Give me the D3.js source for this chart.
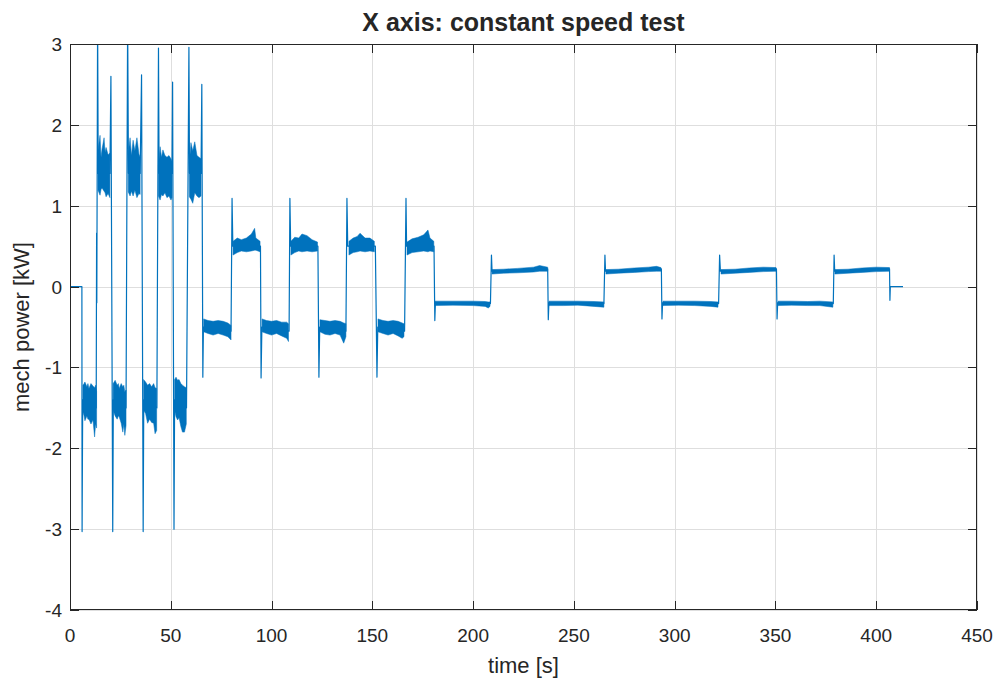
<!DOCTYPE html>
<html>
<head>
<meta charset="utf-8">
<script src="https://cdn.jsdelivr.net/npm/d3@7"></script>
<style>
  body { margin: 0; background: #fff; }
  text { font-family: "Liberation Sans", Arial, Helvetica, sans-serif; fill: #262626; }
</style>
</head>
<body>
<svg id="chart" width="999" height="684"></svg>
<script>
// ---- data -------------------------------------------------------------
const titleText = "X axis: constant speed test";
const xLabel = "time [s]";
const yLabel = "mech power [kW]";
const xTicks = [0, 50, 100, 150, 200, 250, 300, 350, 400, 450];
const yTicks = [-4, -3, -2, -1, 0, 1, 2, 3];

// Trace vertices: transitions, overshoot spikes and plateau ends
const traceTime = [
  0, 5.9, 6.0, 6.3, 13.0, 13.2, 13.3, 13.7, 14.0, 19.8, 20.3, 21.2, 21.5,
  27.8, 28.6, 29.0, 34.8, 35.5, 36.3, 36.6, 43.1, 43.9, 44.2,
  50.6, 50.9, 51.6, 51.9, 57.8, 59.0, 59.3, 65.0, 65.4, 65.9, 66.2,
  79.9, 80.4, 80.8, 94.5, 94.8, 95.2, 108.7, 109.1, 109.5,
  123.0, 123.5, 123.9, 136.9, 137.4, 137.8, 151.5, 152.3, 152.7,
  166.0, 166.7, 167.0, 180.6, 181.0, 181.3,
  208.6, 209.1, 209.4, 237.0, 237.3, 237.6, 264.9, 265.4, 265.7,
  293.4, 293.7, 294.0, 321.8, 322.3, 322.7, 350.5, 350.8, 351.1,
  378.7, 379.1, 379.4, 406.6, 406.8, 407.0, 413.3
];
const tracePower = [
  0, 0, -3.03, -1.4, -1.5, 0.66, -0.2, 3.3, 1.4, 1.4, 2.6, -3.03, -1.4,
  -1.5, 3.3, 1.4, 1.4, 2.62, -3.03, -1.4, -1.5, 2.95, 1.4,
  1.4, 2.53, -3.0, -1.4, -1.5, 2.96, 1.4, 1.4, 2.5, -1.12, -0.5,
  -0.55, 1.09, 0.5, 0.5, -1.13, -0.5, -0.55, 1.09, 0.5,
  0.5, -1.12, -0.5, -0.55, 1.09, 0.5, 0.5, -1.12, -0.5,
  -0.55, 1.09, 0.5, 0.5, -0.42, -0.2,
  -0.21, 0.39, 0.19, 0.22, -0.41, -0.2, -0.21, 0.39, 0.19,
  0.22, -0.40, -0.2, -0.21, 0.39, 0.19, 0.22, -0.40, -0.2,
  -0.21, 0.39, 0.19, 0.22, -0.17, 0, 0
];

// Noise envelope of each plateau: [time s, low kW, high kW]
const bandsFast = [
  [[6.4,-1.55,-1.22],[7.0,-1.6,-1.2],[7.4,-1.66,-1.18],[8.4,-1.6,-1.24],[8.9,-1.64,-1.2],[9.4,-1.64,-1.26],[10.4,-1.7,-1.2],[11.4,-1.65,-1.23],[12.2,-1.86,-1.25],[12.7,-1.7,-1.22],[13.2,-1.75,-1.3]],
  [[13.9,1.19,1.69],[14.9,1.13,1.87],[15.4,1.2,1.6],[15.9,1.22,1.7],[16.9,1.18,1.84],[17.4,1.16,1.66],[17.9,1.11,1.72],[18.9,1.15,1.63],[19.8,1.1,1.65]],
  [[21.4,-1.53,-1.2],[22.4,-1.6,-1.16],[23.4,-1.64,-1.22],[24.0,-1.6,-1.2],[24.4,-1.61,-1.26],[25.4,-1.69,-1.2],[26.2,-1.8,-1.24],[26.7,-1.7,-1.22],[27.2,-1.84,-1.3],[27.8,-1.72,-1.28]],
  [[28.9,1.17,1.65],[29.8,1.12,1.84],[30.5,1.18,1.62],[31.3,1.12,1.81],[32.2,1.19,1.68],[33.2,1.1,1.84],[34.2,1.15,1.64],[34.8,1.14,1.6]],
  [[36.5,-1.53,-1.15],[37.5,-1.57,-1.18],[38.5,-1.69,-1.22],[39.5,-1.64,-1.2],[40.5,-1.68,-1.24],[41.5,-1.69,-1.2],[42.2,-1.82,-1.25],[43.0,-1.78,-1.26]],
  [[43.9,1.12,1.5],[44.7,1.07,1.73],[45.4,1.14,1.6],[46.1,1.12,1.69],[47.1,1.16,1.62],[48.1,1.1,1.6],[49.1,1.12,1.62],[50.1,1.07,1.58],[50.6,1.1,1.55]],
  [[51.9,-1.53,-1.15],[52.6,-1.61,-1.12],[53.4,-1.65,-1.16],[54.1,-1.62,-1.15],[55.0,-1.73,-1.2],[55.8,-1.8,-1.22],[56.8,-1.8,-1.24],[57.7,-1.7,-1.25]],
  [[59.2,1.11,1.53],[60.0,1.08,1.78],[60.9,1.03,1.68],[61.9,1.16,1.79],[63.0,1.12,1.62],[64.0,1.1,1.6],[65.0,1.12,1.58]]
];
const bandsMedium = [
  [[66.3,-0.56,-0.4],[68.5,-0.58,-0.42],[71.0,-0.6,-0.43],[73.5,-0.58,-0.42],[76.0,-0.6,-0.43],[78.3,-0.62,-0.45],[79.9,-0.66,-0.48]],
  [[80.9,0.39,0.56],[83.0,0.42,0.6],[85.0,0.44,0.58],[87.5,0.43,0.6],[90.0,0.44,0.65],[91.6,0.45,0.72],[92.2,0.45,0.6],[94.3,0.43,0.56]],
  [[95.3,-0.56,-0.4],[97.5,-0.58,-0.42],[100.0,-0.6,-0.43],[102.5,-0.58,-0.42],[105.0,-0.61,-0.44],[107.5,-0.64,-0.44],[108.4,-0.68,-0.46]],
  [[109.6,0.39,0.56],[111.5,0.42,0.61],[113.5,0.44,0.6],[115.1,0.43,0.65],[117.6,0.44,0.63],[120.1,0.43,0.58],[122.8,0.44,0.55]],
  [[124.0,-0.56,-0.41],[126.5,-0.59,-0.42],[129.0,-0.6,-0.43],[131.5,-0.58,-0.42],[134.0,-0.6,-0.43],[135.8,-0.7,-0.45],[136.9,-0.62,-0.46]],
  [[138.4,0.39,0.56],[140.5,0.42,0.6],[142.5,0.43,0.62],[143.9,0.44,0.66],[146.4,0.43,0.6],[148.8,0.44,0.6],[151.0,0.43,0.56]],
  [[152.8,-0.56,-0.4],[155.3,-0.58,-0.42],[157.8,-0.6,-0.43],[160.3,-0.58,-0.42],[162.8,-0.61,-0.43],[164.8,-0.64,-0.45],[165.7,-0.62,-0.46]],
  [[167.2,0.39,0.55],[169.7,0.42,0.59],[172.7,0.43,0.61],[175.5,0.44,0.64],[177.6,0.43,0.7],[178.6,0.44,0.6],[180.5,0.43,0.56]]
];
const bandsSlow = [
  [[181.1,-0.235,-0.18],[190,-0.23,-0.18],[200,-0.235,-0.18],[206,-0.245,-0.185],[207.5,-0.265,-0.19],[208.4,-0.245,-0.19]],
  [[209.4,0.155,0.21],[215,0.165,0.215],[222,0.17,0.225],[230,0.18,0.24],[233,0.19,0.26],[237.0,0.19,0.24]],
  [[237.6,-0.235,-0.18],[245,-0.235,-0.18],[252,-0.23,-0.18],[260,-0.245,-0.185],[264.9,-0.255,-0.19]],
  [[265.9,0.155,0.21],[272,0.165,0.215],[280,0.175,0.23],[287,0.185,0.24],[291,0.19,0.25],[293.2,0.19,0.235]],
  [[294.2,-0.235,-0.18],[302,-0.23,-0.18],[310,-0.235,-0.18],[318,-0.245,-0.185],[321.5,-0.255,-0.19]],
  [[323,0.155,0.21],[330,0.165,0.215],[337,0.175,0.23],[344,0.185,0.24],[350.3,0.19,0.235]],
  [[351.3,-0.235,-0.18],[358,-0.23,-0.18],[366,-0.235,-0.185],[372,-0.235,-0.18],[378.5,-0.255,-0.19]],
  [[379.5,0.155,0.21],[386,0.165,0.215],[393,0.175,0.23],[400,0.185,0.24],[406.6,0.19,0.235]]
];

// ---- layout -----------------------------------------------------------
const W = 999, H = 684;
const plot = { left: 70, right: 977, top: 44, bottom: 610 };
const lineColor = "#0072BD";
const axisColor = "#262626";
const gridColor = "#dedede";

const svg = d3.select("#chart");
svg.append("rect").attr("width", W).attr("height", H).attr("fill", "#fff");

const x = d3.scaleLinear().domain([0, 450]).range([plot.left, plot.right]);
const y = d3.scaleLinear().domain([-4, 3]).range([plot.bottom, plot.top]);

// grid
const grid = svg.append("g");
grid.selectAll("line.gx").data(xTicks).join("line")
  .attr("x1", d => Math.round(x(d)) + 0.5).attr("x2", d => Math.round(x(d)) + 0.5)
  .attr("y1", plot.top).attr("y2", plot.bottom)
  .attr("stroke", gridColor).attr("stroke-width", 1);
grid.selectAll("line.gy").data(yTicks).join("line")
  .attr("y1", d => Math.round(y(d)) + 0.5).attr("y2", d => Math.round(y(d)) + 0.5)
  .attr("x1", plot.left).attr("x2", plot.right)
  .attr("stroke", gridColor).attr("stroke-width", 1);

// clip region for the data
svg.append("clipPath").attr("id", "plotClip").append("rect")
  .attr("x", plot.left).attr("y", plot.top)
  .attr("width", plot.right - plot.left).attr("height", plot.bottom - plot.top);
const data = svg.append("g").attr("clip-path", "url(#plotClip)");

// main trace
const tracePoints = traceTime.map((t, i) => [t, tracePower[i]]);
const line = d3.line().x(d => x(d[0])).y(d => y(d[1]));
data.append("path").datum(tracePoints)
  .attr("d", line)
  .attr("fill", "none")
  .attr("stroke", lineColor).attr("stroke-width", 1.2)
  .attr("stroke-linejoin", "round");

// noisy plateaus as envelope areas, drawn over the trace
const area = d3.area().x(d => x(d[0])).y0(d => y(d[1])).y1(d => y(d[2]));
const allBands = bandsFast.concat(bandsMedium, bandsSlow);
data.selectAll("path.band").data(allBands).join("path")
  .attr("class", "band")
  .attr("d", area)
  .attr("fill", lineColor)
  .attr("stroke", lineColor).attr("stroke-opacity", 0.5).attr("stroke-width", 1)
  .attr("stroke-linejoin", "round");

// axes box with inward ticks on all four sides
const tickLen = 9;
const axes = svg.append("g").attr("stroke", axisColor).attr("stroke-width", 1);
axes.append("rect")
  .attr("x", plot.left + 0.5).attr("y", plot.top + 0.5)
  .attr("width", plot.right - plot.left - 1).attr("height", plot.bottom - plot.top - 1)
  .attr("fill", "none");
xTicks.forEach(t => {
  const px = Math.round(x(t)) + 0.5;
  axes.append("line").attr("x1", px).attr("x2", px).attr("y1", plot.bottom).attr("y2", plot.bottom - tickLen);
  axes.append("line").attr("x1", px).attr("x2", px).attr("y1", plot.top).attr("y2", plot.top + tickLen);
});
yTicks.forEach(v => {
  const py = Math.round(y(v)) + 0.5;
  axes.append("line").attr("y1", py).attr("y2", py).attr("x1", plot.left).attr("x2", plot.left + tickLen);
  axes.append("line").attr("y1", py).attr("y2", py).attr("x1", plot.right).attr("x2", plot.right - tickLen);
});

// tick labels
svg.append("g").selectAll("text").data(xTicks).join("text")
  .attr("x", d => x(d)).attr("y", plot.bottom + 32)
  .attr("text-anchor", "middle").attr("font-size", 19)
  .text(d => d);
svg.append("g").selectAll("text").data(yTicks).join("text")
  .attr("x", plot.left - 8).attr("y", d => y(d) + 7)
  .attr("text-anchor", "end").attr("font-size", 19)
  .text(d => d);

// titles
svg.append("text").attr("x", (plot.left + plot.right) / 2).attr("y", 31)
  .attr("text-anchor", "middle").attr("font-size", 25).attr("font-weight", "bold")
  .attr("fill", "#000")
  .text(titleText);
svg.append("text").attr("x", (plot.left + plot.right) / 2).attr("y", 673)
  .attr("text-anchor", "middle").attr("font-size", 22)
  .text(xLabel);
svg.append("text")
  .attr("transform", `translate(29, ${(plot.top + plot.bottom) / 2}) rotate(-90)`)
  .attr("text-anchor", "middle").attr("font-size", 22)
  .text(yLabel);
</script>
</body>
</html>
